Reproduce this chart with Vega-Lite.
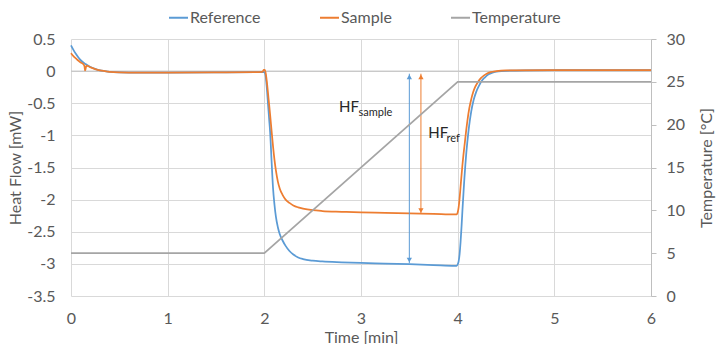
{
  "$schema": "https://vega.github.io/schema/vega-lite/v6.json",
  "width": 580,
  "height": 257,
  "autosize": {"type": "none"},
  "padding": {"left": 71, "top": 39, "right": 65, "bottom": 48},
  "background": "white",
  "config": {
    "view": {"stroke": null},
    "font": "Lato",
    "axis": {
      "labelFont": "Lato",
      "labelFontSize": 16,
      "labelColor": "#595959",
      "labelOverlap": false,
      "labelFlush": false,
      "titleFont": "Lato",
      "titleFontSize": 16,
      "titleFontWeight": "normal",
      "titleColor": "#595959",
      "gridColor": "#d9d9d9",
      "gridWidth": 1,
      "domain": false,
      "ticks": false
    },
    "legend": {
      "labelFont": "Lato",
      "labelFontSize": 16,
      "labelColor": "#595959"
    }
  },
  "datasets": {
    "hf": [
      {"t": 0, "value": 0.40, "series": "Reference"},
      {"t": 0.025, "value": 0.33, "series": "Reference"},
      {"t": 0.05, "value": 0.27, "series": "Reference"},
      {"t": 0.075, "value": 0.215, "series": "Reference"},
      {"t": 0.1, "value": 0.17, "series": "Reference"},
      {"t": 0.15, "value": 0.11, "series": "Reference"},
      {"t": 0.2, "value": 0.065, "series": "Reference"},
      {"t": 0.25, "value": 0.035, "series": "Reference"},
      {"t": 0.3, "value": 0.012, "series": "Reference"},
      {"t": 0.35, "value": 0.0, "series": "Reference"},
      {"t": 0.4, "value": -0.01, "series": "Reference"},
      {"t": 0.5, "value": -0.018, "series": "Reference"},
      {"t": 0.7, "value": -0.022, "series": "Reference"},
      {"t": 1.0, "value": -0.022, "series": "Reference"},
      {"t": 1.5, "value": -0.02, "series": "Reference"},
      {"t": 1.9, "value": -0.017, "series": "Reference"},
      {"t": 2.0, "value": -0.015, "series": "Reference"},
      {"t": 2.012, "value": -0.06, "series": "Reference"},
      {"t": 2.025, "value": -0.25, "series": "Reference"},
      {"t": 2.04, "value": -0.55, "series": "Reference"},
      {"t": 2.05, "value": -0.75, "series": "Reference"},
      {"t": 2.06, "value": -0.95, "series": "Reference"},
      {"t": 2.075, "value": -1.4, "series": "Reference"},
      {"t": 2.09, "value": -1.82, "series": "Reference"},
      {"t": 2.105, "value": -2.08, "series": "Reference"},
      {"t": 2.12, "value": -2.27, "series": "Reference"},
      {"t": 2.14, "value": -2.43, "series": "Reference"},
      {"t": 2.16, "value": -2.54, "series": "Reference"},
      {"t": 2.19, "value": -2.64, "series": "Reference"},
      {"t": 2.22, "value": -2.72, "series": "Reference"},
      {"t": 2.26, "value": -2.8, "series": "Reference"},
      {"t": 2.3, "value": -2.855, "series": "Reference"},
      {"t": 2.35, "value": -2.9, "series": "Reference"},
      {"t": 2.4, "value": -2.925, "series": "Reference"},
      {"t": 2.5, "value": -2.95, "series": "Reference"},
      {"t": 2.6, "value": -2.962, "series": "Reference"},
      {"t": 2.8, "value": -2.975, "series": "Reference"},
      {"t": 3.0, "value": -2.985, "series": "Reference"},
      {"t": 3.25, "value": -2.995, "series": "Reference"},
      {"t": 3.5, "value": -3.005, "series": "Reference"},
      {"t": 3.75, "value": -3.018, "series": "Reference"},
      {"t": 3.97, "value": -3.03, "series": "Reference"},
      {"t": 3.99, "value": -3.03, "series": "Reference"},
      {"t": 4.0, "value": -3.01, "series": "Reference"},
      {"t": 4.01, "value": -2.96, "series": "Reference"},
      {"t": 4.02, "value": -2.85, "series": "Reference"},
      {"t": 4.03, "value": -2.66, "series": "Reference"},
      {"t": 4.04, "value": -2.42, "series": "Reference"},
      {"t": 4.05, "value": -2.15, "series": "Reference"},
      {"t": 4.06, "value": -1.9, "series": "Reference"},
      {"t": 4.07, "value": -1.66, "series": "Reference"},
      {"t": 4.08, "value": -1.45, "series": "Reference"},
      {"t": 4.09, "value": -1.26, "series": "Reference"},
      {"t": 4.1, "value": -1.1, "series": "Reference"},
      {"t": 4.11, "value": -0.96, "series": "Reference"},
      {"t": 4.125, "value": -0.78, "series": "Reference"},
      {"t": 4.14, "value": -0.63, "series": "Reference"},
      {"t": 4.165, "value": -0.45, "series": "Reference"},
      {"t": 4.19, "value": -0.33, "series": "Reference"},
      {"t": 4.22, "value": -0.23, "series": "Reference"},
      {"t": 4.25, "value": -0.15, "series": "Reference"},
      {"t": 4.28, "value": -0.1, "series": "Reference"},
      {"t": 4.32, "value": -0.05, "series": "Reference"},
      {"t": 4.36, "value": -0.025, "series": "Reference"},
      {"t": 4.42, "value": -0.005, "series": "Reference"},
      {"t": 4.5, "value": 0.005, "series": "Reference"},
      {"t": 4.7, "value": 0.012, "series": "Reference"},
      {"t": 5.0, "value": 0.014, "series": "Reference"},
      {"t": 5.5, "value": 0.015, "series": "Reference"},
      {"t": 6.0, "value": 0.015, "series": "Reference"},
      {"t": 0, "value": 0.28, "series": "Sample"},
      {"t": 0.025, "value": 0.235, "series": "Sample"},
      {"t": 0.05, "value": 0.2, "series": "Sample"},
      {"t": 0.075, "value": 0.165, "series": "Sample"},
      {"t": 0.1, "value": 0.135, "series": "Sample"},
      {"t": 0.13, "value": 0.105, "series": "Sample"},
      {"t": 0.14, "value": 0.07, "series": "Sample"},
      {"t": 0.145, "value": 0.01, "series": "Sample"},
      {"t": 0.15, "value": 0.03, "series": "Sample"},
      {"t": 0.16, "value": 0.085, "series": "Sample"},
      {"t": 0.2, "value": 0.06, "series": "Sample"},
      {"t": 0.25, "value": 0.032, "series": "Sample"},
      {"t": 0.3, "value": 0.012, "series": "Sample"},
      {"t": 0.35, "value": 0.0, "series": "Sample"},
      {"t": 0.4, "value": -0.01, "series": "Sample"},
      {"t": 0.5, "value": -0.018, "series": "Sample"},
      {"t": 0.7, "value": -0.022, "series": "Sample"},
      {"t": 1.0, "value": -0.022, "series": "Sample"},
      {"t": 1.5, "value": -0.02, "series": "Sample"},
      {"t": 1.9, "value": -0.017, "series": "Sample"},
      {"t": 1.98, "value": -0.01, "series": "Sample"},
      {"t": 1.995, "value": 0.02, "series": "Sample"},
      {"t": 2.005, "value": 0.02, "series": "Sample"},
      {"t": 2.015, "value": -0.04, "series": "Sample"},
      {"t": 2.03, "value": -0.22, "series": "Sample"},
      {"t": 2.045, "value": -0.45, "series": "Sample"},
      {"t": 2.06, "value": -0.68, "series": "Sample"},
      {"t": 2.075, "value": -0.93, "series": "Sample"},
      {"t": 2.09, "value": -1.17, "series": "Sample"},
      {"t": 2.105, "value": -1.38, "series": "Sample"},
      {"t": 2.12, "value": -1.55, "series": "Sample"},
      {"t": 2.14, "value": -1.72, "series": "Sample"},
      {"t": 2.16, "value": -1.83, "series": "Sample"},
      {"t": 2.19, "value": -1.93, "series": "Sample"},
      {"t": 2.22, "value": -2.0, "series": "Sample"},
      {"t": 2.26, "value": -2.05, "series": "Sample"},
      {"t": 2.3, "value": -2.09, "series": "Sample"},
      {"t": 2.35, "value": -2.12, "series": "Sample"},
      {"t": 2.4, "value": -2.14, "series": "Sample"},
      {"t": 2.5, "value": -2.165, "series": "Sample"},
      {"t": 2.6, "value": -2.178, "series": "Sample"},
      {"t": 2.8, "value": -2.19, "series": "Sample"},
      {"t": 3.0, "value": -2.2, "series": "Sample"},
      {"t": 3.25, "value": -2.207, "series": "Sample"},
      {"t": 3.5, "value": -2.215, "series": "Sample"},
      {"t": 3.75, "value": -2.222, "series": "Sample"},
      {"t": 3.97, "value": -2.23, "series": "Sample"},
      {"t": 3.99, "value": -2.228, "series": "Sample"},
      {"t": 4.0, "value": -2.2, "series": "Sample"},
      {"t": 4.01, "value": -2.12, "series": "Sample"},
      {"t": 4.02, "value": -1.98, "series": "Sample"},
      {"t": 4.03, "value": -1.8, "series": "Sample"},
      {"t": 4.04, "value": -1.62, "series": "Sample"},
      {"t": 4.05, "value": -1.45, "series": "Sample"},
      {"t": 4.06, "value": -1.3, "series": "Sample"},
      {"t": 4.075, "value": -1.1, "series": "Sample"},
      {"t": 4.09, "value": -0.9, "series": "Sample"},
      {"t": 4.1, "value": -0.78, "series": "Sample"},
      {"t": 4.12, "value": -0.58, "series": "Sample"},
      {"t": 4.14, "value": -0.44, "series": "Sample"},
      {"t": 4.16, "value": -0.33, "series": "Sample"},
      {"t": 4.18, "value": -0.25, "series": "Sample"},
      {"t": 4.21, "value": -0.17, "series": "Sample"},
      {"t": 4.24, "value": -0.11, "series": "Sample"},
      {"t": 4.27, "value": -0.07, "series": "Sample"},
      {"t": 4.3, "value": -0.04, "series": "Sample"},
      {"t": 4.34, "value": -0.015, "series": "Sample"},
      {"t": 4.4, "value": 0.0, "series": "Sample"},
      {"t": 4.5, "value": 0.01, "series": "Sample"},
      {"t": 5.0, "value": 0.014, "series": "Sample"},
      {"t": 5.5, "value": 0.015, "series": "Sample"},
      {"t": 6.0, "value": 0.015, "series": "Sample"}
    ],
    "temp": [
      {"t": 0, "temp": 5, "series": "Temperature"},
      {"t": 2, "temp": 5, "series": "Temperature"},
      {"t": 4, "temp": 25, "series": "Temperature"},
      {"t": 6, "temp": 25, "series": "Temperature"}
    ],
    "arrows": [
      {"t": 3.5, "value": -0.04, "value2": -2.99, "series": "Reference"},
      {"t": 3.62, "value": -0.04, "value2": -2.22, "series": "Sample"}
    ],
    "heads": [
      {"t": 3.5, "value": -0.09, "end": "top", "series": "Reference"},
      {"t": 3.5, "value": -2.94, "end": "bottom", "series": "Reference"},
      {"t": 3.62, "value": -0.09, "end": "top", "series": "Sample"},
      {"t": 3.62, "value": -2.17, "end": "bottom", "series": "Sample"}
    ],
    "labels": [
      {"t": 2.772, "value": -0.556, "label": "HF"},
      {"t": 3.696, "value": -0.97, "label": "HF"}
    ],
    "subs": [
      {"t": 2.975, "value": -0.65, "label": "sample"},
      {"t": 3.885, "value": -1.063, "label": "ref"}
    ]
  },
  "layer": [
    {
      "layer": [
        {
          "data": {"values": [{}]},
          "mark": {"type": "rule", "color": "#bfbfbf", "strokeWidth": 1},
          "encoding": {"y": {"datum": 0, "type": "quantitative"}}
        },
        {
          "data": {"name": "hf"},
          "mark": {"type": "line", "strokeWidth": 1.75, "interpolate": "monotone"},
          "encoding": {
            "x": {
              "field": "t", "type": "quantitative",
              "scale": {"domain": [0, 6], "nice": false, "zero": false},
              "axis": {
                "values": [0, 1, 2, 3, 4, 5, 6],
                "tickCount": 20,
                "labelExpr": "'' + datum.value",
                "labelOverlap": false,
                "grid": true,
                "labelPadding": 27,
                "labelBaseline": "alphabetic",
                "title": "Time [min]",
                "titleX": 290,
                "titleY": 46,
                "titleBaseline": "alphabetic",
                "titleAlign": "center"
              }
            },
            "y": {
              "field": "value", "type": "quantitative",
              "scale": {"domain": [-3.5, 0.5], "nice": false, "zero": false},
              "axis": {
                "orient": "left",
                "values": [-3.5, -3, -2.5, -2, -1.5, -1, -0.5, 0, 0.5],
                "tickCount": 20,
                "labelExpr": "'' + datum.value",
                "labelOverlap": false,
                "grid": true,
                "labelPadding": 16,
                "title": "Heat Flow [mW]",
                "titleAngle": 270,
                "titleX": -56,
                "titleY": 128.5,
                "titleAlign": "center",
                "titleBaseline": "middle"
              }
            },
            "color": {
              "field": "series", "type": "nominal",
              "scale": {"domain": ["Reference", "Sample", "Temperature"], "range": ["#5B9BD5", "#ED7D31", "#A5A5A5"]},
              "legend": {
                "title": null,
                "orient": "none",
                "legendX": 97,
                "legendY": -32,
                "direction": "horizontal",
                "symbolType": "stroke",
                "symbolSize": 361,
                "symbolStrokeWidth": 2,
                "labelOffset": 1,
                "columnPadding": 55
              }
            },
            "order": {"field": "t", "type": "quantitative"}
          }
        },
        {
          "data": {"name": "arrows"},
          "mark": {"type": "rule", "strokeWidth": 1},
          "encoding": {
            "x": {"field": "t", "type": "quantitative"},
            "y": {"field": "value", "type": "quantitative"},
            "y2": {"field": "value2"},
            "color": {"field": "series", "type": "nominal", "scale": {"domain": ["Reference", "Sample", "Temperature"], "range": ["#5B9BD5", "#ED7D31", "#A5A5A5"]}}
          }
        },
        {
          "data": {"name": "heads"},
          "mark": {"type": "point", "filled": true, "opacity": 1, "size": 28},
          "encoding": {
            "x": {"field": "t", "type": "quantitative"},
            "y": {"field": "value", "type": "quantitative"},
            "shape": {"field": "end", "type": "nominal", "scale": {"domain": ["top", "bottom"], "range": ["triangle-up", "triangle-down"]}, "legend": null},
            "color": {"field": "series", "type": "nominal", "scale": {"domain": ["Reference", "Sample", "Temperature"], "range": ["#5B9BD5", "#ED7D31", "#A5A5A5"]}}
          }
        },
        {
          "data": {"name": "labels"},
          "mark": {"type": "text", "align": "left", "baseline": "middle", "fontSize": 15, "font": "Lato", "color": "#262626"},
          "encoding": {
            "x": {"field": "t", "type": "quantitative"},
            "y": {"field": "value", "type": "quantitative"},
            "text": {"field": "label"}
          }
        },
        {
          "data": {"name": "subs"},
          "mark": {"type": "text", "align": "left", "baseline": "middle", "fontSize": 11, "font": "Lato", "color": "#262626"},
          "encoding": {
            "x": {"field": "t", "type": "quantitative"},
            "y": {"field": "value", "type": "quantitative"},
            "text": {"field": "label"}
          }
        }
      ]
    },
    {
      "data": {"name": "temp"},
      "mark": {"type": "line", "strokeWidth": 1.75},
      "encoding": {
        "x": {"field": "t", "type": "quantitative"},
        "y": {
          "field": "temp", "type": "quantitative",
          "scale": {"domain": [0, 30], "nice": false},
          "axis": {
            "orient": "right",
            "values": [0, 5, 10, 15, 20, 25, 30],
            "tickCount": 20,
            "grid": false,
            "domain": true,
            "domainColor": "#bfbfbf",
            "ticks": true,
            "tickSize": 5,
            "tickColor": "#bfbfbf",
            "labelPadding": 10,
            "title": "Temperature [°C]",
            "titleAngle": 270,
            "titleX": 55,
            "titleY": 128.5,
            "titleAlign": "center",
            "titleBaseline": "middle"
          }
        },
        "color": {"field": "series", "type": "nominal", "scale": {"domain": ["Reference", "Sample", "Temperature"], "range": ["#5B9BD5", "#ED7D31", "#A5A5A5"]}}
      }
    }
  ],
  "resolve": {"scale": {"y": "independent"}}
}
